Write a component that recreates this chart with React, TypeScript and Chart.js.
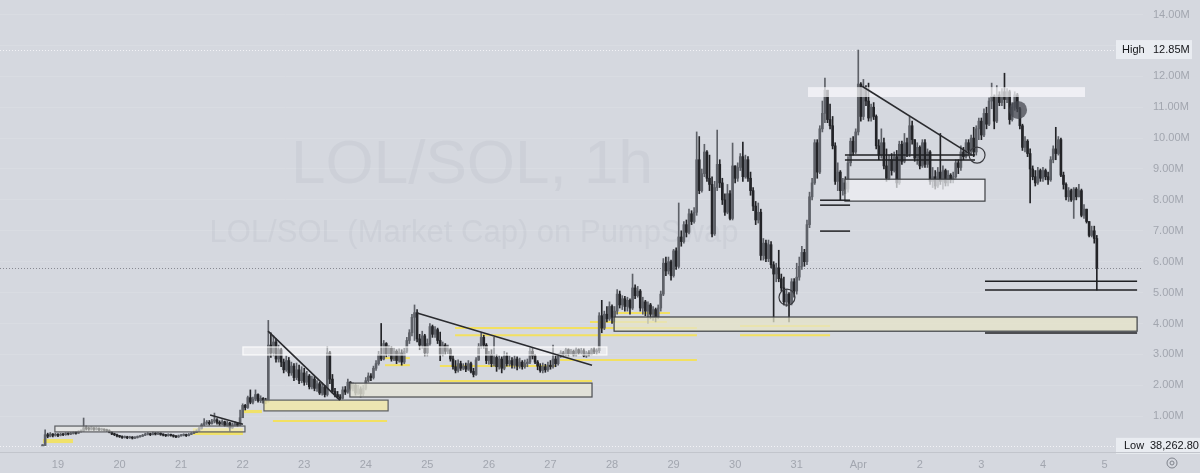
import { useEffect, useRef } from 'react';
import { Chart, registerables } from 'chart.js';
Chart.register(...registerables);

// ---------- DATA (values in millions, hour index from Mar 19 00:00) ----------
const FIRST_HOUR = -6;
const FIRST_OPEN = 0.04;

const mar18Close = [0.05, 0.40, 0.35, 0.42, 0.38, 0.40];
const mar18High = [0.08, 0.56, 0.45, 0.47, 0.44, 0.45];
const mar18Low = [0.0382628, 0.05, 0.30, 0.33, 0.33, 0.35];

const mar19Close = [0.38, 0.41, 0.40, 0.43, 0.42, 0.44, 0.47, 0.45, 0.50, 0.52, 0.62, 0.60, 0.58, 0.62, 0.57, 0.60, 0.56, 0.58, 0.55, 0.53, 0.48, 0.42, 0.40, 0.36];
const mar19High = [0.44, 0.45, 0.44, 0.47, 0.46, 0.48, 0.50, 0.50, 0.53, 0.56, 0.94, 0.68, 0.64, 0.66, 0.63, 0.64, 0.62, 0.61, 0.59, 0.58, 0.56, 0.50, 0.45, 0.42];
const mar19Low = [0.34, 0.36, 0.37, 0.38, 0.39, 0.40, 0.42, 0.42, 0.44, 0.48, 0.50, 0.55, 0.54, 0.55, 0.54, 0.55, 0.53, 0.53, 0.52, 0.50, 0.46, 0.40, 0.37, 0.33];

const mar20Close = [0.34, 0.31, 0.33, 0.30, 0.32, 0.29, 0.31, 0.33, 0.35, 0.38, 0.41, 0.43, 0.40, 0.44, 0.42, 0.45, 0.41, 0.39, 0.37, 0.40, 0.38, 0.35, 0.33, 0.36];
const mar20High = [0.38, 0.36, 0.36, 0.35, 0.35, 0.34, 0.34, 0.36, 0.38, 0.41, 0.45, 0.47, 0.45, 0.49, 0.47, 0.48, 0.46, 0.43, 0.41, 0.43, 0.42, 0.40, 0.37, 0.39];
const mar20Low = [0.31, 0.28, 0.29, 0.27, 0.28, 0.26, 0.27, 0.29, 0.32, 0.34, 0.37, 0.39, 0.37, 0.39, 0.39, 0.40, 0.38, 0.36, 0.34, 0.35, 0.35, 0.32, 0.30, 0.31];

const mar21Close = [0.38, 0.40, 0.37, 0.41, 0.44, 0.47, 0.52, 0.60, 0.72, 0.78, 0.80, 0.76, 0.84, 0.88, 0.80, 0.75, 0.82, 0.70, 0.78, 0.62, 0.72, 0.76, 0.70, 0.95];
const mar21High = [0.41, 0.43, 0.42, 0.44, 0.47, 0.52, 0.56, 0.64, 0.76, 0.92, 0.86, 0.86, 0.90, 1.10, 0.92, 0.85, 0.88, 0.84, 0.84, 0.80, 0.78, 0.82, 0.80, 1.20];
const mar21Low = [0.35, 0.36, 0.34, 0.36, 0.40, 0.43, 0.47, 0.51, 0.58, 0.69, 0.73, 0.71, 0.74, 0.78, 0.74, 0.70, 0.72, 0.66, 0.65, 0.52, 0.60, 0.68, 0.66, 0.69];

const mar22Close = [1.35, 1.28, 1.60, 1.45, 1.55, 1.70, 1.50, 1.58, 1.52, 1.48, 3.30, 3.05, 3.40, 2.85, 3.15, 2.75, 2.50, 2.80, 2.40, 2.62, 2.25, 2.50, 2.15, 2.40];
const mar22High = [1.40, 1.38, 1.65, 1.85, 1.62, 1.85, 1.72, 1.66, 1.60, 1.58, 4.10, 3.70, 3.60, 3.50, 3.30, 3.20, 2.85, 2.95, 2.90, 2.75, 2.70, 2.72, 2.65, 2.60];
const mar22Low = [1.15, 1.20, 1.25, 1.40, 1.40, 1.50, 1.45, 1.44, 1.42, 1.40, 1.45, 2.90, 2.95, 2.75, 2.75, 2.60, 2.40, 2.45, 2.30, 2.32, 2.15, 2.18, 2.05, 2.08];

const mar23Close = [2.10, 2.30, 1.95, 2.20, 1.90, 2.05, 1.75, 1.95, 1.70, 3.05, 2.20, 1.80, 1.70, 1.62, 1.58, 1.85, 1.78, 2.10, 1.90, 2.00, 1.75, 1.88, 1.72, 1.90];
const mar23High = [2.55, 2.45, 2.35, 2.30, 2.28, 2.15, 2.10, 2.08, 2.00, 3.25, 3.10, 2.35, 1.90, 1.80, 1.70, 1.95, 1.96, 2.20, 2.12, 2.08, 2.05, 2.00, 1.95, 2.00];
const mar23Low = [2.00, 2.02, 1.88, 1.88, 1.82, 1.80, 1.70, 1.68, 1.62, 1.65, 2.05, 1.75, 1.62, 1.58, 1.52, 1.55, 1.70, 1.74, 1.84, 1.82, 1.68, 1.70, 1.62, 1.66];

const mar24Close = [2.15, 2.30, 2.25, 2.55, 2.70, 3.00, 2.85, 3.35, 3.00, 3.20, 2.85, 3.10, 2.80, 3.05, 2.75, 3.10, 3.45, 3.70, 4.20, 4.35, 3.50, 3.30, 3.60, 3.05];
const mar24High = [2.25, 2.40, 2.38, 2.62, 2.80, 3.10, 4.00, 3.45, 3.38, 3.28, 3.25, 3.20, 3.15, 3.18, 3.15, 3.20, 3.55, 3.80, 4.30, 4.60, 4.45, 3.65, 3.75, 3.65];
const mar24Low = [1.85, 2.10, 2.15, 2.20, 2.48, 2.65, 2.80, 2.82, 2.92, 2.95, 2.78, 2.80, 2.70, 2.75, 2.65, 2.70, 3.05, 3.35, 3.60, 3.45, 3.40, 3.15, 3.20, 2.95];

const mar25Close = [3.35, 3.90, 3.65, 3.80, 3.45, 3.00, 3.30, 3.10, 3.15, 2.85, 2.60, 2.48, 2.70, 2.55, 2.62, 2.52, 2.70, 2.45, 2.35, 2.82, 3.25, 3.55, 3.30, 2.80];
const mar25High = [3.50, 4.00, 3.95, 3.90, 3.85, 3.72, 3.40, 3.35, 3.30, 3.20, 2.95, 2.80, 2.82, 2.78, 2.70, 2.72, 2.80, 2.75, 2.55, 2.90, 3.35, 3.70, 3.62, 3.35];
const mar25Low = [2.95, 3.30, 3.55, 3.55, 3.35, 2.80, 2.95, 3.00, 3.02, 2.78, 2.52, 2.40, 2.42, 2.48, 2.50, 2.44, 2.48, 2.40, 2.27, 2.32, 2.80, 3.20, 3.20, 2.70];

const mar26Close = [3.00, 2.70, 2.90, 2.60, 2.85, 2.55, 2.95, 2.70, 2.80, 2.65, 2.85, 2.62, 2.75, 2.60, 2.70, 2.75, 3.10, 2.95, 2.75, 2.62, 2.48, 2.60, 2.50, 2.65];
const mar26High = [3.10, 3.15, 3.55, 3.00, 2.95, 2.92, 3.10, 3.05, 2.95, 2.90, 2.95, 2.92, 2.88, 2.80, 2.82, 2.85, 3.25, 3.20, 3.00, 2.80, 2.70, 2.72, 2.68, 2.75];
const mar26Low = [2.68, 2.60, 2.62, 2.45, 2.52, 2.40, 2.50, 2.62, 2.62, 2.55, 2.55, 2.50, 2.55, 2.52, 2.55, 2.60, 2.70, 2.85, 2.70, 2.50, 2.42, 2.40, 2.42, 2.45];

const mar27Close = [2.60, 2.85, 2.70, 2.95, 3.05, 2.98, 3.15, 3.02, 3.10, 2.98, 3.15, 3.05, 3.12, 2.95, 3.05, 3.00, 3.15, 3.08, 3.12, 4.25, 3.85, 4.30, 4.15, 4.55];
const mar27High = [2.80, 3.30, 2.95, 3.02, 3.12, 3.10, 3.20, 3.18, 3.16, 3.14, 3.22, 3.18, 3.20, 3.18, 3.10, 3.12, 3.20, 3.22, 3.18, 4.35, 4.75, 4.40, 4.55, 4.70];
const mar27Low = [2.52, 2.55, 2.60, 2.65, 2.90, 2.92, 2.95, 2.95, 3.00, 2.95, 2.95, 3.00, 3.00, 2.92, 2.90, 2.95, 2.98, 3.02, 3.00, 3.05, 3.70, 3.80, 4.05, 4.10];

const mar28Close = [4.20, 4.40, 4.95, 4.60, 4.80, 4.55, 4.75, 4.50, 5.15, 4.90, 5.05, 4.50, 4.70, 4.40, 4.60, 4.30, 4.45, 4.20, 4.50, 4.95, 5.95, 5.70, 6.00, 5.55];
const mar28High = [4.60, 4.55, 5.10, 5.05, 4.90, 4.88, 4.85, 4.80, 5.60, 5.25, 5.20, 5.10, 4.85, 4.75, 4.70, 4.65, 4.55, 4.50, 4.60, 5.05, 6.10, 6.15, 6.15, 6.05];
const mar28Low = [4.00, 4.05, 4.30, 4.50, 4.45, 4.40, 4.40, 4.30, 4.45, 4.80, 4.85, 4.40, 4.30, 4.25, 4.00, 4.15, 4.10, 4.05, 4.15, 4.40, 4.90, 5.55, 5.60, 5.40];

const mar29Close = [6.35, 5.85, 6.80, 6.65, 7.20, 6.95, 7.55, 7.30, 7.60, 9.30, 8.30, 8.85, 9.55, 8.70, 8.50, 6.90, 8.40, 9.15, 8.55, 8.00, 7.60, 8.20, 7.40, 9.10];
const mar29High = [6.40, 6.45, 7.90, 7.00, 7.30, 7.35, 7.70, 7.65, 7.75, 10.20, 10.05, 9.00, 9.80, 9.60, 9.45, 8.75, 8.60, 10.26, 9.30, 8.70, 8.20, 8.50, 8.30, 9.84];
const mar29Low = [5.50, 5.75, 5.80, 6.50, 6.60, 6.80, 6.90, 7.20, 7.25, 7.50, 8.20, 8.25, 8.75, 8.60, 8.30, 6.80, 6.85, 8.30, 8.40, 7.85, 7.50, 7.55, 7.35, 7.35];

const mar30Close = [8.70, 9.05, 9.40, 8.75, 9.30, 8.70, 8.30, 7.80, 7.35, 7.60, 6.20, 6.60, 6.10, 6.55, 5.90, 5.60, 5.80, 5.45, 5.15, 4.70, 4.95, 4.65, 5.35, 5.05];
const mar30High = [9.10, 9.20, 9.50, 9.87, 9.45, 9.40, 8.90, 8.40, 7.95, 7.90, 7.70, 6.75, 6.70, 6.70, 6.65, 6.00, 5.95, 6.37, 5.60, 5.50, 5.10, 5.00, 5.45, 5.45];
const mar30Low = [8.55, 8.60, 8.95, 8.60, 8.70, 8.60, 8.15, 7.65, 7.20, 7.25, 6.05, 6.05, 6.00, 6.00, 5.80, 4.05, 5.35, 5.35, 5.05, 4.60, 4.55, 4.05, 4.60, 4.85];

const mar31Close = [5.50, 5.85, 6.30, 6.00, 7.20, 8.10, 8.55, 9.85, 8.90, 10.30, 10.80, 11.55, 10.60, 10.40, 9.75, 8.60, 8.90, 8.30, 8.55, 8.35, 9.20, 9.90, 9.55, 10.20];
const mar31High = [5.95, 6.15, 6.50, 6.40, 7.35, 8.25, 8.70, 9.95, 9.95, 10.40, 11.20, 11.94, 11.40, 11.10, 10.70, 9.85, 9.20, 8.95, 8.70, 8.75, 9.40, 10.00, 10.05, 10.30];
const mar31Low = [4.95, 5.40, 5.75, 5.85, 5.90, 7.10, 8.00, 8.50, 8.70, 8.85, 10.20, 10.50, 10.50, 10.30, 9.65, 8.50, 8.30, 8.00, 8.15, 8.20, 8.25, 9.10, 9.45, 9.50];

const apr1Close = [11.75, 10.70, 11.60, 11.20, 10.65, 11.00, 10.70, 9.75, 9.45, 9.85, 9.10, 8.70, 9.30, 8.95, 9.40, 8.55, 9.80, 9.25, 9.85, 9.50, 10.40, 9.95, 9.35, 9.70];
const apr1High = [12.85, 11.80, 11.90, 11.70, 11.78, 11.10, 11.15, 10.75, 9.95, 10.30, 10.00, 9.65, 9.45, 9.50, 9.55, 9.60, 9.90, 9.90, 10.15, 10.00, 10.70, 10.55, 9.95, 9.85];
const apr1Low = [10.10, 10.55, 10.60, 11.05, 10.55, 10.55, 10.60, 9.65, 9.30, 9.35, 9.00, 8.60, 8.65, 8.80, 8.90, 8.40, 8.50, 9.15, 9.20, 9.40, 9.40, 9.80, 9.25, 9.15];

const apr2Close = [9.10, 9.85, 9.15, 9.55, 8.60, 8.75, 8.45, 8.90, 8.60, 8.95, 8.55, 8.80, 8.65, 8.75, 9.20, 9.05, 9.55, 9.40, 9.85, 9.60, 10.00, 9.55, 10.30, 10.55];
const apr2High = [9.75, 9.95, 9.95, 9.65, 9.60, 9.05, 8.95, 9.05, 10.15, 9.10, 9.00, 8.95, 8.85, 8.90, 9.30, 9.30, 9.75, 9.70, 9.95, 9.95, 10.10, 10.35, 10.40, 10.65];
const apr2Low = [9.00, 9.05, 9.05, 9.05, 8.50, 8.40, 8.35, 8.40, 8.50, 8.35, 8.45, 8.45, 8.55, 8.55, 8.70, 8.85, 8.95, 9.30, 9.35, 9.45, 9.50, 9.40, 9.45, 9.95];

const apr3Close = [10.10, 10.80, 10.45, 11.20, 11.35, 10.55, 11.40, 11.15, 11.50, 11.25, 11.50, 10.60, 11.00, 11.40, 10.95, 10.40, 9.70, 9.90, 9.50, 9.00, 8.75, 8.55, 8.95, 8.70];
const apr3High = [10.65, 10.95, 11.00, 11.30, 11.78, 11.40, 11.70, 11.50, 11.60, 12.10, 11.60, 11.55, 11.15, 11.50, 11.45, 11.00, 10.45, 10.05, 9.95, 9.65, 9.10, 8.95, 9.05, 9.00];
const apr3Low = [9.95, 10.05, 10.30, 10.40, 10.95, 10.30, 10.50, 11.05, 11.05, 10.95, 11.15, 10.45, 10.55, 10.90, 10.85, 10.30, 9.60, 9.55, 9.40, 7.90, 8.65, 8.45, 8.50, 8.60];

const apr4Close = [8.95, 8.75, 8.65, 9.30, 9.65, 9.50, 9.95, 8.80, 8.50, 8.10, 8.30, 8.00, 8.35, 8.10, 8.30, 7.50, 7.70, 7.30, 6.85, 7.00, 6.75, 5.79];
const apr4High = [9.05, 9.00, 8.90, 9.40, 9.75, 10.35, 10.05, 10.00, 8.90, 8.55, 8.40, 8.35, 8.40, 8.40, 8.50, 8.35, 7.85, 7.45, 7.30, 7.15, 7.15, 6.85];
const apr4Low = [8.60, 8.65, 8.50, 8.60, 9.20, 9.30, 9.45, 8.75, 8.35, 8.00, 7.95, 7.95, 7.40, 8.00, 8.10, 7.45, 7.40, 7.25, 6.80, 6.80, 6.60, 5.08];

const dayTickLabels = ['19', '20', '21', '22', '23', '24', '25', '26', '27', '28', '29', '30', '31', 'Apr', '2', '3', '4', '5'];
const priceTicks = [1, 2, 3, 4, 5, 6, 7, 8, 9, 10, 11, 12, 13, 14];

// drawings, in (hour, value M) coordinates
const yellowBands = [
  [-5.85, 5.85, 0.26, 0.13],
  [52.6, 72.1, 0.61, 0.39],
  [72.1, 79.5, 1.2, 1.1],
];
const yellowLines = [
  [83.8, 128.3, 0.84],
  [127.5, 137.2, 2.88],
  [127.5, 137.2, 2.65],
  [148.9, 194.0, 2.62],
  [148.9, 208.2, 2.14],
  [154.8, 249.1, 3.85],
  [154.8, 249.1, 3.62],
  [195.7, 249.1, 2.82],
  [217.2, 238.6, 4.34],
  [207.4, 237.4, 4.05],
  [265.9, 301, 3.92],
  [265.9, 301, 3.62],
];
const rectBoxes = [
  { h1: -1.2, h2: 72.9, top: 0.68, bottom: 0.49, fill: 'rgba(238,238,232,0.55)', stroke: '#5a5c60' },
  { h1: 80.3, h2: 128.7, top: 1.52, bottom: 1.17, fill: 'rgba(240,232,170,0.85)', stroke: '#5a5c60' },
  { h1: 72.1, h2: 214, top: 3.24, bottom: 2.98, fill: 'rgba(255,255,255,0.45)', stroke: 'rgba(255,255,255,0.85)' },
  { h1: 113.8, h2: 208.2, top: 2.07, bottom: 1.62, fill: 'rgba(228,228,214,0.8)', stroke: '#4a4c50' },
  { h1: 216.8, h2: 420.7, top: 4.21, bottom: 3.75, fill: 'rgba(230,228,200,0.75)', stroke: '#3d3f43' },
  { h1: 306.8, h2: 361.4, top: 8.67, bottom: 7.96, fill: 'rgba(240,241,244,0.7)', stroke: '#3d3f43' },
  { h1: 292.4, h2: 400.4, top: 11.65, bottom: 11.33, fill: 'rgba(250,250,252,0.7)', stroke: '' },
];
const blackLines = [
  [361.4, 420.7, 5.37],
  [361.4, 420.7, 5.08],
  [361.4, 420.7, 3.69],
  [297.1, 308.8, 7.99],
  [297.1, 308.8, 7.83],
  [297.1, 308.8, 6.99],
  [306.8, 357.5, 9.45],
  [306.8, 357.5, 9.29],
];
const trendLines = [
  [81.9, 3.75, 109.9, 1.52],
  [140, 4.34, 208.2, 2.65],
  [313.5, 11.68, 356.3, 9.45],
  [59.3, 1.04, 72.1, 0.74],
];
const circleMarks = [
  { h: 284.2, v: 4.85, filled: false },
  { h: 358.3, v: 9.45, filled: false },
  { h: 374.3, v: 10.91, filled: true },
];

// ---------- BUILD ----------
const closeDays = [mar18Close, mar19Close, mar20Close, mar21Close, mar22Close, mar23Close, mar24Close, mar25Close, mar26Close, mar27Close, mar28Close, mar29Close, mar30Close, mar31Close, apr1Close, apr2Close, apr3Close, apr4Close];
const highDays = [mar18High, mar19High, mar20High, mar21High, mar22High, mar23High, mar24High, mar25High, mar26High, mar27High, mar28High, mar29High, mar30High, mar31High, apr1High, apr2High, apr3High, apr4High];
const lowDays = [mar18Low, mar19Low, mar20Low, mar21Low, mar22Low, mar23Low, mar24Low, mar25Low, mar26Low, mar27Low, mar28Low, mar29Low, mar30Low, mar31Low, apr1Low, apr2Low, apr3Low, apr4Low];
const closes = closeDays.flat();
const highs = highDays.flat();
const lows = lowDays.flat();

type Candle = { t: number; o: number; h: number; l: number; c: number };
const candles: Candle[] = closes.map((c, i) => {
  const o = i === 0 ? FIRST_OPEN : closes[i - 1];
  return { t: FIRST_HOUR + i, o, c, h: Math.max(highs[i], o, c), l: Math.min(lows[i], o, c) };
});
const allHigh = Math.max(...candles.map((k) => k.h));
const allLow = Math.min(...candles.map((k) => k.l));
const lastClose = closes[closes.length - 1];

const BG = '#d5d8df';
const UP = '#5e6168';
const DOWN = '#232428';
const FONT = "'Liberation Sans', Arial, sans-serif";

export default function App() {
  const ref = useRef<HTMLCanvasElement | null>(null);
  useEffect(() => {
    document.body.style.margin = '0';
    document.body.style.background = BG;
    const canvas = ref.current;
    if (!canvas) return;

    const colors = candles.map((k) => (k.c >= k.o ? UP : DOWN));

    const drawings = {
      id: 'drawings',
      beforeDatasetsDraw(chart: any) {
        const ctx = chart.ctx as CanvasRenderingContext2D;
        const a = chart.chartArea;
        const xs = chart.scales.x;
        const ys = chart.scales.y;
        ctx.save();
        ctx.beginPath();
        ctx.rect(a.left, a.top, a.right - a.left, a.bottom - a.top);
        ctx.clip();
        // watermark
        ctx.fillStyle = 'rgba(110,116,132,0.075)';
        ctx.textAlign = 'center';
        ctx.textBaseline = 'alphabetic';
        ctx.font = `62px ${FONT}`;
        ctx.fillText('LOL/SOL, 1h', 472, 183);
        ctx.font = `31px ${FONT}`;
        ctx.fillText('LOL/SOL (Market Cap) on PumpSwap', 474, 242);
        // dotted level lines
        ctx.setLineDash([1, 2]);
        ctx.lineWidth = 1;
        ctx.strokeStyle = 'rgba(250,250,252,0.8)';
        [allHigh, allLow].forEach((v) => {
          const y = Math.round(ys.getPixelForValue(v)) + 0.5;
          ctx.beginPath();
          ctx.moveTo(a.left, y);
          ctx.lineTo(a.right, y);
          ctx.stroke();
        });
        ctx.strokeStyle = 'rgba(110,112,120,0.75)';
        const yl = Math.round(ys.getPixelForValue(lastClose)) + 0.5;
        ctx.beginPath();
        ctx.moveTo(a.left, yl);
        ctx.lineTo(a.right, yl);
        ctx.stroke();
        ctx.setLineDash([]);
        // yellow bands and lines
        ctx.fillStyle = 'rgba(243,226,92,0.9)';
        yellowBands.forEach(([h1, h2, t, b]) => {
          const x1 = xs.getPixelForValue(h1);
          const x2 = xs.getPixelForValue(h2);
          const y1 = ys.getPixelForValue(t);
          const y2 = ys.getPixelForValue(b);
          ctx.fillRect(x1, y1, x2 - x1, y2 - y1);
        });
        ctx.strokeStyle = 'rgba(243,224,90,0.95)';
        ctx.lineWidth = 2;
        yellowLines.forEach(([h1, h2, v]) => {
          const y = ys.getPixelForValue(v);
          ctx.beginPath();
          ctx.moveTo(xs.getPixelForValue(h1), y);
          ctx.lineTo(xs.getPixelForValue(h2), y);
          ctx.stroke();
        });
        ctx.restore();
      },
      afterDatasetsDraw(chart: any) {
        const ctx = chart.ctx as CanvasRenderingContext2D;
        const a = chart.chartArea;
        const xs = chart.scales.x;
        const ys = chart.scales.y;
        ctx.save();
        ctx.beginPath();
        ctx.rect(a.left, a.top, a.right - a.left, a.bottom - a.top);
        ctx.clip();
        rectBoxes.forEach((b) => {
          const x1 = xs.getPixelForValue(b.h1);
          const x2 = xs.getPixelForValue(b.h2);
          const y1 = ys.getPixelForValue(b.top);
          const y2 = ys.getPixelForValue(b.bottom);
          ctx.fillStyle = b.fill;
          ctx.fillRect(x1, y1, x2 - x1, y2 - y1);
          if (b.stroke) {
            ctx.strokeStyle = b.stroke;
            ctx.lineWidth = 1.2;
            ctx.strokeRect(x1, y1, x2 - x1, y2 - y1);
          }
        });
        ctx.strokeStyle = '#1f2023';
        ctx.lineWidth = 1.5;
        blackLines.forEach(([h1, h2, v]) => {
          const y = ys.getPixelForValue(v);
          ctx.beginPath();
          ctx.moveTo(xs.getPixelForValue(h1), y);
          ctx.lineTo(xs.getPixelForValue(h2), y);
          ctx.stroke();
        });
        ctx.strokeStyle = '#2a2b2f';
        ctx.lineWidth = 1.6;
        trendLines.forEach(([h1, v1, h2, v2]) => {
          ctx.beginPath();
          ctx.moveTo(xs.getPixelForValue(h1), ys.getPixelForValue(v1));
          ctx.lineTo(xs.getPixelForValue(h2), ys.getPixelForValue(v2));
          ctx.stroke();
        });
        circleMarks.forEach((c) => {
          ctx.beginPath();
          ctx.arc(xs.getPixelForValue(c.h), ys.getPixelForValue(c.v), c.filled ? 9 : 8, 0, Math.PI * 2);
          if (c.filled) {
            ctx.fillStyle = 'rgba(70,72,80,0.75)';
            ctx.fill();
          } else {
            ctx.strokeStyle = '#3a3b40';
            ctx.lineWidth = 1.2;
            ctx.stroke();
          }
        });
        ctx.restore();
      },
      afterDraw(chart: any) {
        const ctx = chart.ctx as CanvasRenderingContext2D;
        const a = chart.chartArea;
        const ys = chart.scales.y;
        ctx.save();
        ctx.font = `11px ${FONT}`;
        ctx.textBaseline = 'middle';
        ctx.textAlign = 'left';
        const yh = ys.getPixelForValue(allHigh);
        ctx.fillStyle = '#e9ecf1';
        ctx.fillRect(1116, yh - 10, 76, 19);
        ctx.fillStyle = '#131418';
        ctx.fillText('High', 1122, yh);
        ctx.fillText(allHigh.toFixed(2) + 'M', 1153, yh);
        const ylow = ys.getPixelForValue(allLow);
        ctx.fillStyle = '#e9ecf1';
        ctx.fillRect(1116, ylow - 8, 84, 16);
        ctx.fillStyle = '#131418';
        ctx.fillText('Low', 1124, ylow);
        const lowTxt = (allLow * 1e6).toLocaleString('en-US', { minimumFractionDigits: 2, maximumFractionDigits: 2 });
        ctx.fillText(lowTxt, 1150, ylow);
        // bottom separator
        ctx.strokeStyle = '#c2c5cc';
        ctx.lineWidth = 1;
        ctx.beginPath();
        ctx.moveTo(0, a.bottom + 0.5);
        ctx.lineTo(1200, a.bottom + 0.5);
        ctx.stroke();
        // settings icon
        ctx.strokeStyle = '#7f838c';
        ctx.beginPath();
        ctx.arc(1172, 463, 5, 0, Math.PI * 2);
        ctx.stroke();
        ctx.beginPath();
        ctx.arc(1172, 463, 2, 0, Math.PI * 2);
        ctx.stroke();
        ctx.restore();
      },
    };

    const bgPlugin = {
      id: 'bg',
      beforeDraw(chart: any) {
        const ctx = chart.ctx as CanvasRenderingContext2D;
        ctx.save();
        ctx.fillStyle = BG;
        ctx.fillRect(0, 0, chart.width, chart.height);
        ctx.restore();
      },
    };

    const chart = new Chart(canvas, {
      type: 'bar',
      data: {
        datasets: [
          {
            label: 'wick',
            data: candles.map((k) => ({ x: k.t, y: [k.l, k.h] })) as any,
            backgroundColor: colors,
            barThickness: 1,
            grouped: false,
            order: 2,
          } as any,
          {
            label: 'body',
            data: candles.map((k) => ({ x: k.t, y: [k.o, k.c] })) as any,
            backgroundColor: colors,
            barThickness: 2,
            minBarLength: 1,
            grouped: false,
            order: 1,
          } as any,
        ],
      },
      options: {
        responsive: false,
        animation: false,
        devicePixelRatio: 1,
        layout: { padding: 0 },
        plugins: { legend: { display: false }, tooltip: { enabled: false } },
        scales: {
          x: {
            type: 'linear',
            min: -22.6,
            max: 423,
            offset: false,
            grid: { display: false, drawTicks: false },
            border: { display: false },
            afterBuildTicks: (s: any) => {
              s.ticks = dayTickLabels.map((_, i) => ({ value: i * 24 }));
            },
            afterFit: (s: any) => {
              s.height = 21;
              s.paddingLeft = 0;
              s.paddingRight = 0;
            },
            ticks: {
              autoSkip: false,
              maxRotation: 0,
              padding: 6,
              color: '#a2a6af',
              font: { family: FONT, size: 11 },
              callback: (_v: any, i: number) => dayTickLabels[i],
            },
          },
          y: {
            type: 'linear',
            position: 'right',
            min: -0.16,
            max: 14.47,
            grid: { color: 'rgba(255,255,255,0.10)', drawTicks: false },
            border: { display: false },
            afterBuildTicks: (s: any) => {
              s.ticks = priceTicks.map((v) => ({ value: v }));
            },
            afterFit: (s: any) => {
              s.width = 57;
              s.paddingTop = 0;
              s.paddingBottom = 0;
            },
            ticks: {
              padding: 10,
              color: '#a2a6af',
              font: { family: FONT, size: 11 },
              callback: (v: any) => Number(v).toFixed(2) + 'M',
            },
          },
        },
      },
      plugins: [bgPlugin, drawings],
    });
    return () => chart.destroy();
  }, []);

  return (
    <div style={{ width: 1200, height: 473, background: BG }}>
      <canvas ref={ref} width={1200} height={473} style={{ display: 'block' }} />
    </div>
  );
}
